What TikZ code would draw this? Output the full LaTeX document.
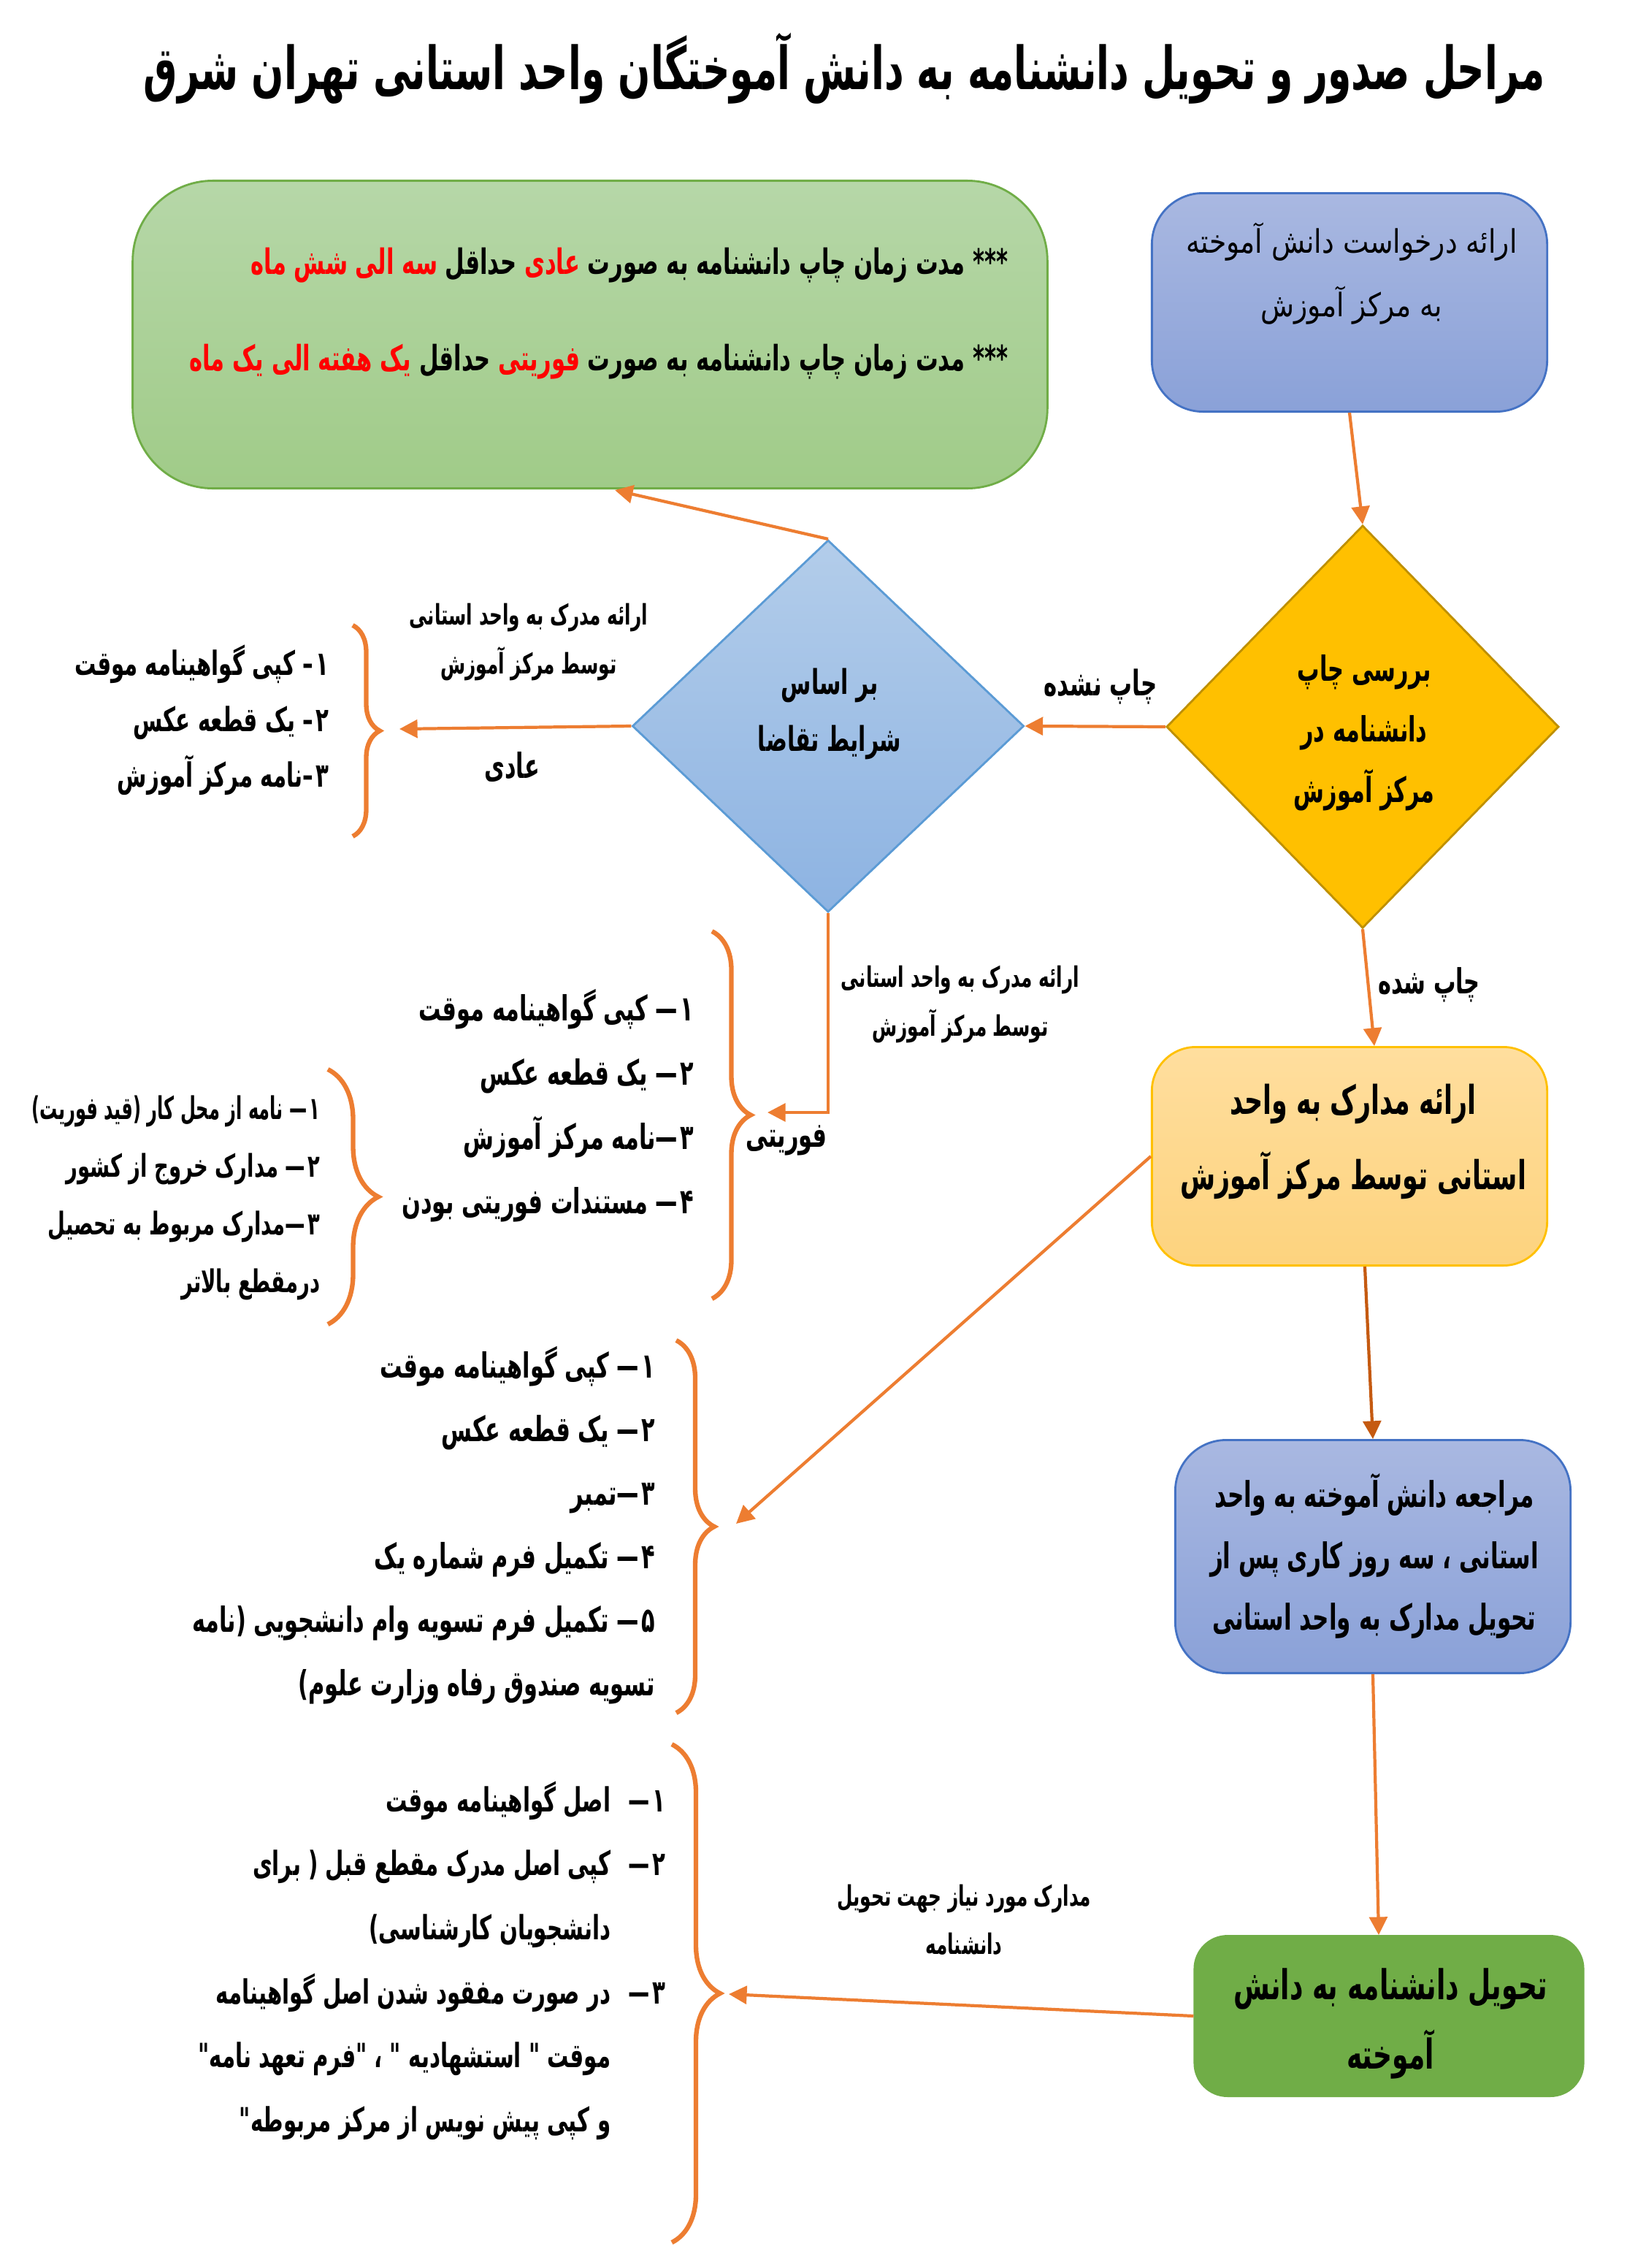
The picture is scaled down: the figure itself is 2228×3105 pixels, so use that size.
\documentclass[tikz,border=0pt]{standalone}
\usepackage{fontspec}
\usepackage{graphicx}
\usetikzlibrary{arrows.meta,decorations.pathreplacing,shapes.geometric,calc}
\TeXXeTstate=1
\newfontfamily\faR[Script=Arabic,FakeStretch=0.85]{DejaVu Sans}
\newfontfamily\faB[Script=Arabic,FakeStretch=0.64]{DejaVu Sans Bold}
\newcommand\rt[1]{\beginR#1\endR}
\newcommand\fsz[2]{\fontsize{#1}{#2}\selectfont}
\newcommand\nh[1]{#1\kern1pt–\kern0pt\relax}
\newcommand\nd[1]{#1\kern1pt—\kern0pt\relax}
\newcommand\nb[1]{\hbox to 0.75cm{\beginR#1\kern1pt—\hfil\endR}}
\newcommand\nbe{\hbox to 0.75cm{}}
\definecolor{arr}{HTML}{ED7D31}
\definecolor{brn}{HTML}{C55A11}
\definecolor{bbTop}{HTML}{A9B8E1}
\definecolor{bbBot}{HTML}{8AA1D8}
\definecolor{bbLine}{HTML}{4472C4}
\definecolor{gTop}{HTML}{B6D7A8}
\definecolor{gBot}{HTML}{A0CB88}
\definecolor{gLine}{HTML}{70AD47}
\definecolor{odFill}{HTML}{FFC000}
\definecolor{odLine}{HTML}{BF9000}
\definecolor{bdTop}{HTML}{B3CDEA}
\definecolor{bdBot}{HTML}{8DB3E2}
\definecolor{bdLine}{HTML}{5B9BD5}
\definecolor{obTop}{HTML}{FFDE9E}
\definecolor{obBot}{HTML}{FDD37E}
\definecolor{obLine}{HTML}{FFC000}
\definecolor{gTwo}{HTML}{70AD47}
\definecolor{redT}{HTML}{FF0000}
\tikzset{
  txt/.style={inner sep=0pt, text=black},
  conn/.style={draw=arr, line width=1.2pt, -{Triangle[length=7pt,width=7pt]}},
  brc/.style={draw=arr, line width=1.8pt, decorate, decoration={brace, amplitude=#1, aspect=0.5}},
  bluebox/.style={draw=bbLine, line width=0.8pt, top color=bbTop, bottom color=bbBot, inner sep=0pt},
  greenbox/.style={draw=gLine, line width=0.8pt, top color=gTop, bottom color=gBot, inner sep=0pt},
  orangebox/.style={draw=obLine, line width=0.8pt, top color=obTop, bottom color=obBot, inner sep=0pt},
  darkgreenbox/.style={draw=gTwo, line width=0.8pt, fill=gTwo, inner sep=0pt},
  orangediamond/.style={diamond, draw=odLine, line width=0.8pt, fill=odFill, inner sep=0pt},
  bluediamond/.style={diamond, draw=bdLine, line width=0.8pt, top color=bdTop, bottom color=bdBot, inner sep=0pt},
}
\begin{document}
\begin{tikzpicture}[x=0.01cm,y=-0.01cm]
\useasboundingbox (0,0) rectangle (2228,3105);
\fill[white] (0,0) rectangle (2228,3105);

% title
\node[txt, font=\faB\fsz{23.1}{30}] (title) at (1156,94) {\rt{مراحل صدور و تحویل دانشنامه به دانش آموختگان واحد استانی تهران شرق}};

% shapes
\node[greenbox, rounded corners=1.1cm, minimum width=12.52cm, minimum height=4.21cm] (g1) at (808,458) {};
\node[bluebox, rounded corners=0.7cm, minimum width=5.41cm, minimum height=2.99cm] (b1) at (1848,414) {};
\node[orangediamond, minimum width=5.37cm, minimum height=5.51cm] (od) at (1866,995) {};
\node[bluediamond, minimum width=5.36cm, minimum height=5.09cm] (bd) at (1134,994) {};
\node[orangebox, rounded corners=0.6cm, minimum width=5.41cm, minimum height=2.99cm] (ob) at (1848,1583) {};
\node[bluebox, rounded corners=0.7cm, minimum width=5.41cm, minimum height=3.19cm] (b2) at (1880,2131) {};
\node[darkgreenbox, rounded corners=0.45cm, minimum width=5.32cm, minimum height=2.19cm] (g2) at (1902,2760) {};

% texts in shapes
\node[txt, anchor=east, font=\faB\fsz{13.6}{18}] (g1a) at (1381,363) {\textcolor{redT}{\rt{سه الی شش ماه}} \rt{حداقل} \textcolor{redT}{\rt{عادی}} \rt{*** مدت زمان چاپ دانشنامه به صورت}};
\node[txt, anchor=east, font=\faB\fsz{13.6}{18}] (g1b) at (1381,495) {\textcolor{redT}{\rt{یک هفته الی یک  ماه}} \rt{حداقل} \textcolor{redT}{\rt{فوریتی}} \rt{*** مدت زمان چاپ دانشنامه به صورت}};
\node[txt, align=center, font=\faR\fsz{12.6}{24.7}] (b1t) at (1851,375) {\rt{ارائه درخواست دانش آموخته}\\\rt{به مرکز آموزش}};
\node[txt, align=center, font=\faB\fsz{13.5}{23.6}] (odt) at (1868,1003) {\rt{بررسی چاپ}\\\rt{دانشنامه در}\\\rt{مرکز آموزش}};
\node[txt, align=center, font=\faB\fsz{13.3}{22.2}] (bdt) at (1136,977) {\rt{بر اساس}\\\rt{شرایط تقاضا}};
\node[txt, align=center, font=\faB\fsz{15.5}{29.3}] (obt) at (1853,1563) {\rt{ارائه مدارک به واحد}\\\rt{استانی توسط مرکز آموزش}};
\node[txt, align=center, font=\faB\fsz{13.8}{23.9}] (b2t) at (1882,2130) {\rt{مراجعه دانش آموخته به واحد}\\\rt{استانی ، سه روز کاری پس از}\\\rt{تحویل مدارک به واحد استانی}};
\node[txt, align=center, font=\faB\fsz{16}{27}] (g2t) at (1904,2770) {\rt{تحویل دانشنامه به دانش}\\\rt{آموخته}};

% connector labels
\node[txt, align=center, font=\faB\fsz{11}{19}] (lab1) at (724,879) {\rt{ارائه مدرک به واحد استانی}\\\rt{توسط مرکز آموزش}};
\node[txt, font=\faB\fsz{13.5}{18}] (adi) at (701,1050) {\rt{عادی}};
\node[txt, font=\faB\fsz{13.7}{18}] (nashode) at (1507,940) {\rt{چاپ نشده}};
\node[txt, align=center, font=\faB\fsz{11}{19.3}] (lab2) at (1315,1375) {\rt{ارائه مدرک به واحد استانی}\\\rt{توسط مرکز آموزش}};
\node[txt, font=\faB\fsz{13.5}{18}] (fori) at (1077,1561) {\rt{فوریتی}};
\node[txt, font=\faB\fsz{13.5}{18}] (shode) at (1957,1348) {\rt{چاپ شده}};
\node[txt, align=center, font=\faB\fsz{11}{18.8}] (lab4) at (1320,2628) {\rt{مدارک مورد نیاز جهت  تحویل}\\\rt{دانشنامه}};

% lists
\node[txt, anchor=east, align=right, font=\faB\fsz{13}{21.8}] (list1) at (451,986) {\rt{\nh{۱} کپی گواهینامه موقت}\\\rt{\nh{۲} یک قطعه عکس}\\\rt{\nh{۳}نامه مرکز آموزش}};
\node[txt, anchor=east, align=right, font=\faB\fsz{13.5}{25}] (list2) at (951,1514) {\rt{\nd{۱} کپی گواهینامه موقت}\\\rt{\nd{۲} یک قطعه عکس}\\\rt{\nd{۳}نامه مرکز آموزش}\\\rt{\nd{۴} مستندات فوریتی بودن}};
\node[txt, anchor=east, align=right, font=\faB\fsz{12.2}{22.5}] (list3) at (439,1640) {\scalebox{0.88}[1]{\rt{\nd{۱} نامه از محل کار (قید فوریت)}}\\\rt{\nd{۲} مدارک خروج از کشور}\\\rt{\nd{۳}مدارک مربوط به تحصیل}\\\rt{درمقطع بالاتر}};
\node[txt, anchor=east, align=right, font=\faB\fsz{13.5}{24.75}] (list4) at (898,2088) {\rt{\nd{۱} کپی گواهینامه موقت}\\\rt{\nd{۲} یک قطعه عکس}\\\rt{\nd{۳}تمبر}\\\rt{\nd{۴} تکمیل فرم شماره یک}\\\rt{\nd{۵} تکمیل فرم  تسویه وام دانشجویی (نامه}\\\rt{تسویه صندوق رفاه وزارت علوم)}};
\node[txt, anchor=east, align=right, font=\faB\fsz{13}{24.9}] (list5) at (912,2684) {\rt{\nb{۱}اصل گواهینامه موقت}\\\rt{\nb{۲}کپی اصل مدرک مقطع قبل ( برای}\\\rt{\nbe دانشجویان کارشناسی)}\\\rt{\nb{۳}در صورت مفقود شدن اصل گواهینامه}\\\rt{\nbe موقت " استشهادیه " ، "فرم تعهد نامه"}\\\rt{\nbe و کپی پیش نویس از مرکز مربوطه"}};

% braces
\draw[brc=0.37cm] (483,856) -- (483,1145);
\draw[brc=0.53cm] (975,1275) -- (975,1778);
\draw[brc=0.69cm] (449,1464) -- (449,1813);
\draw[brc=0.52cm] (926,1835) -- (926,2345);
\draw[brc=0.66cm] (920,2388) -- (920,3070);

% connector end points
\coordinate (br1) at (547,998);
\coordinate (br2) at (1051,1523);
\coordinate (br4) at (1008,2086);
\coordinate (br5) at (998,2730);
\coordinate (g1in) at (842,671);

% connectors
\draw[conn] (b1.south) -- (od.north);
\draw[conn] (od.west) -- (bd.east);
\draw[conn] (bd.north) -- (g1in);
\draw[conn] (bd.west) -- (br1);
\draw[conn] (bd.south) |- (br2);
\draw[conn] (od.south) -- ($(ob.north)+(34,0)$);
\draw[conn] (ob.west) -- (br4);
\draw[conn, draw=brn] ($(ob.south)+(21,0)$) -- (b2.north);
\draw[conn] (b2.south) -- ($(g2.north)+(-14,0)$);
\draw[conn] (g2.west) -- (br5);
\end{tikzpicture}
\end{document}
